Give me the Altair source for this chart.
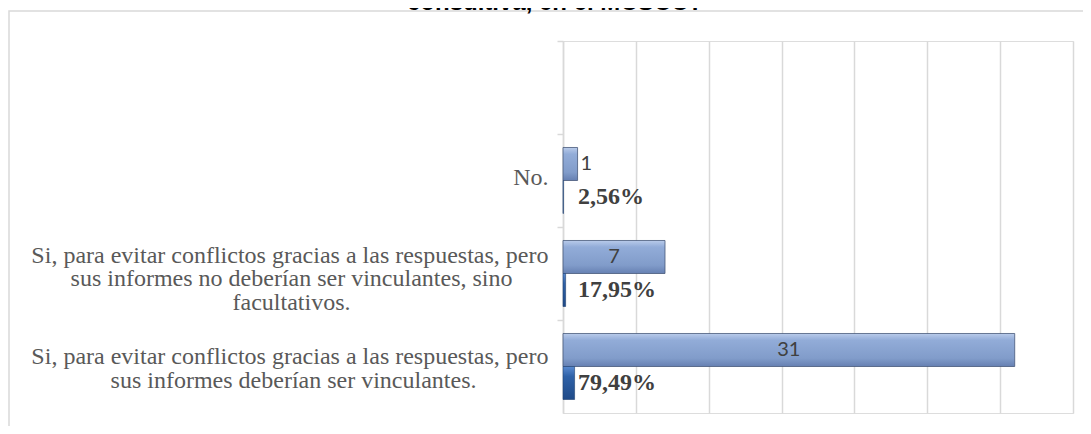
import altair as alt
import pandas as pd

# ---- data ----
title_text = "consultiva, en el MCSCC?"
categories = [
    " ",
    "No.",
    "Si, para evitar conflictos gracias a las respuestas, pero|sus informes no deberían ser vinculantes, sino|facultativos.",
    "Si, para evitar conflictos gracias a las respuestas, pero|sus informes deberían ser vinculantes.",
]
counts = [None, 1, 7, 31]
pcts = [None, 0.0256, 0.1795, 0.7949]
pct_labels = ["", "2,56%", "17,95%", "79,49%"]
x_ticks = [0, 5, 10, 15, 20, 25, 30, 35]

# right-side padding (non-breaking spaces + zero-width end marker so it is not trimmed)
NB = "\u00a0"
ZW = "\u200b"
line_pad = {
    "sus informes no deberían ser vinculantes, sino": 6,
    "facultativos.": 33,
    "sus informes deberían ser vinculantes.": 12,
}


def display(cat):
    out = []
    for l in cat.split("|"):
        k = line_pad.get(l, 0)
        out.append(l + NB * k + ZW if k else l)
    return "|".join(out)


disp = [display(c) for c in categories]

rows = []
for c, n, p, pl in zip(disp, counts, pcts, pct_labels):
    if n is None:
        continue
    rows.append({"cat": c, "series": "n", "value": n, "label": str(n)})
    rows.append({"cat": c, "series": "pct", "value": p, "label": pl})
df = pd.DataFrame(rows)

W, H = 510, 372
LH = 23.5
P_IN = 0.29
STEP = H / 4
T_OFF = -P_IN * STEP / 2  # move ticks from band start to the step boundary

yenc = alt.Y(
    "cat:N",
    sort=None,
    scale=alt.Scale(domain=disp, paddingInner=P_IN, paddingOuter=P_IN / 2),
    axis=alt.Axis(
        title=None,
        labelExpr="split(datum.label, '|')",
        labelFont="Liberation Serif",
        labelFontSize=24,
        labelColor="#595959",
        labelLineHeight=LH,
        labelAlign="right",
        labelBaseline="middle",
        labelPadding=9,
        labelLimit=800,
        labelOffset={
            "condition": [
                {"test": "length(split(datum.label, '|')) == 3", "value": -18.5 - T_OFF},
                {"test": "length(split(datum.label, '|')) == 2", "value": -10 - T_OFF},
            ],
            "value": -3 - T_OFF,
        },
        bandPosition=0,
        tickOffset=T_OFF,
        tickSize=6,
        tickColor="#d9d9d9",
        tickWidth=1.5,
        domainColor="#d9d9d9",
        domainWidth=1.5,
        grid=False,
    ),
)
yoff = alt.YOffset(
    "series:N", scale=alt.Scale(domain=["n", "pct"], paddingInner=0, paddingOuter=0)
)
xenc = alt.X(
    "value:Q",
    scale=alt.Scale(domain=[0, 35], nice=False),
    axis=alt.Axis(
        values=x_ticks,
        labels=False,
        ticks=False,
        domain=False,
        grid=True,
        gridColor="#d9d9d9",
        gridWidth=1.5,
        title=None,
    ),
)

base = alt.Chart(df).encode(y=yenc, yOffset=yoff)

grad_n = alt.Gradient(
    gradient="linear",
    x1=0, x2=0, y1=0, y2=1,
    stops=[
        alt.GradientStop(color="#b9cbea", offset=0),
        alt.GradientStop(color="#92acd8", offset=0.2),
        alt.GradientStop(color="#819cca", offset=0.75),
        alt.GradientStop(color="#6680b2", offset=1),
    ],
)
grad_p = alt.Gradient(
    gradient="linear",
    x1=0, x2=0, y1=0, y2=1,
    stops=[
        alt.GradientStop(color="#5a8ad0", offset=0),
        alt.GradientStop(color="#2f62a8", offset=0.3),
        alt.GradientStop(color="#1f4a88", offset=1),
    ],
)

bars_n = base.transform_filter("datum.series == 'n'").mark_bar(
    color=grad_n, stroke="#46587a", strokeWidth=0.8
).encode(x=xenc)
bars_p = base.transform_filter("datum.series == 'pct'").mark_bar(
    color=grad_p, stroke="#1f3f70", strokeWidth=0.6
).encode(x=xenc)

lab_in = base.transform_filter("datum.series == 'n' && datum.value >= 3").transform_calculate(
    mid="datum.value / 2"
).mark_text(font="Lato", fontSize=20, color="#404040", align="center", baseline="middle").encode(
    x=alt.X("mid:Q"), text="label:N"
)
lab_out = base.transform_filter("datum.series == 'n' && datum.value < 3").mark_text(
    font="Lato", fontSize=20, color="#404040", align="left", baseline="middle", dx=3
).encode(x=alt.X("value:Q"), text="label:N")
lab_p = base.transform_filter("datum.series == 'pct'").mark_text(
    font="Liberation Serif", fontSize=24, fontWeight="bold", color="#404040",
    align="left", baseline="middle"
).encode(x=alt.value(15), text="label:N")

frame = alt.Chart(pd.DataFrame({"a": [0]})).mark_rect(
    fill="transparent", stroke="#d9d9d9", strokeWidth=1.5
).encode(x=alt.value(-554), x2=alt.value(560), y=alt.value(-30), y2=alt.value(420))

title = alt.Chart(pd.DataFrame({"t": [title_text]})).mark_text(
    font="Liberation Sans", fontSize=24, fontWeight="bold", color="#000000",
    align="center", baseline="alphabetic"
).encode(x=alt.value(-8), y=alt.value(-31), text="t:N")

chart = alt.layer(frame, title, bars_n, bars_p, lab_in, lab_out, lab_p).properties(
    width=W,
    height=H,
    autosize=alt.AutoSizeParams(type="none"),
    padding={"left": 555, "top": 33, "right": 10, "bottom": 13},
).configure_view(strokeWidth=0).configure(background="white")

chart.save("out.html", embed_options={"renderer": "svg", "actions": False})
